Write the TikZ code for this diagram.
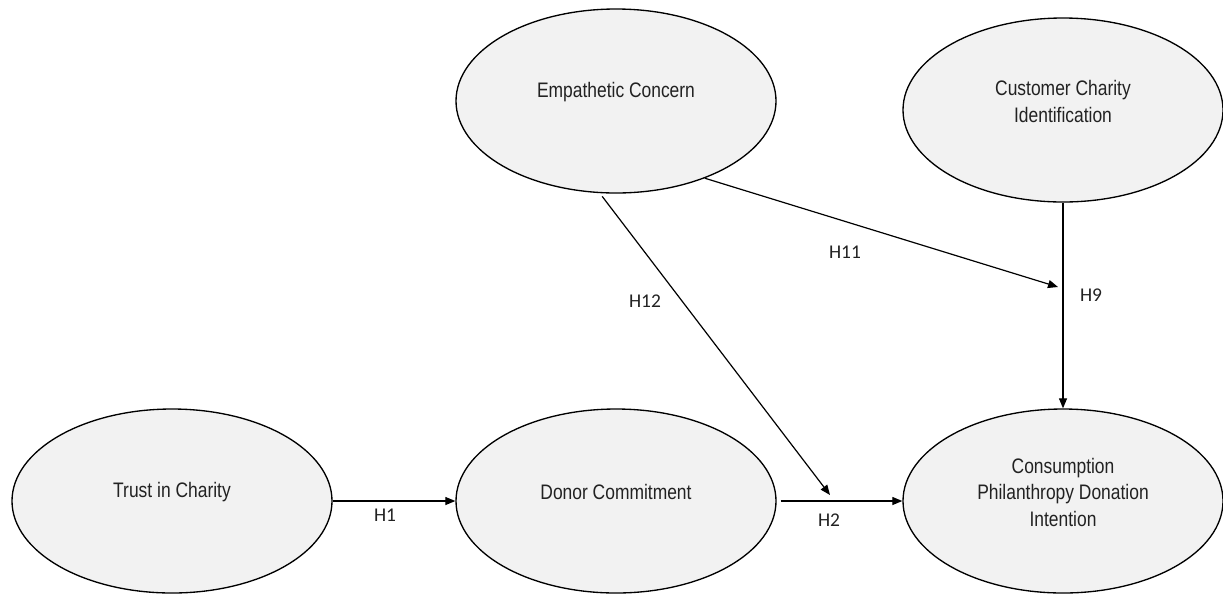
\documentclass[tikz,border=0pt]{standalone}
\usepackage{fontspec}
\usetikzlibrary{shapes.geometric,arrows.meta}
\newfontfamily\ellfont[FakeStretch=0.83]{Liberation Sans}
\newfontfamily\hfont{Carlito}
\definecolor{ellfill}{HTML}{F2F2F2}
\definecolor{ink}{HTML}{222222}
\begin{document}
\begin{tikzpicture}[x=0.75pt,y=-0.75pt,
  construct/.style={ellipse,draw=black,line width=1pt,fill=ellfill,
    minimum width=240pt,minimum height=138pt,inner sep=0pt},
  ctext/.style={font=\ellfont\fontsize{15.75}{20}\selectfont,text=ink,
    align=center,yshift=6.4pt},
  path/.style={draw=black,line width=0.9pt,-{Triangle[length=7.5pt,width=6pt]}},
  hyp/.style={font=\hfont\fontsize{14.6}{17}\selectfont,text=ink,inner sep=0pt}]
  \useasboundingbox (0,0) rectangle (1223,594);

  % latent constructs
  \node[construct,label={[ctext]center:Trust in Charity}] (trust) at (172,501) {};
  \node[construct,label={[ctext]center:Donor Commitment}] (donor) at (616,501) {};
  \node[construct,label={[ctext]center:Consumption\\Philanthropy Donation\\Intention}] (cons) at (1063,501) {};
  \node[construct,label={[ctext]center:Empathetic Concern}] (emp) at (616,101) {};
  \node[construct,label={[ctext]center:Customer Charity\\Identification}] (cust) at (1063,110) {};

  % moderation targets
  \coordinate (t12) at (830,495);
  \coordinate (t11) at (1058,287);

  % hypothesised paths
  \draw[path] (trust.east) -- (donor.west);
  \draw[path,shorten <=3pt] (donor.east) -- (cons.west);
  \draw[path] (cust.south) -- (cons.north);
  \draw[path,shorten <=3pt] (emp.260) -- (t12);
  \draw[path] (emp.319) -- (t11);

  % hypothesis labels
  \node[hyp] (h1) at (385,515) {H1};
  \node[hyp] (h2) at (829,520) {H2};
  \node[hyp] (h9) at (1091,295) {H9};
  \node[hyp] (h11) at (845,252) {H11};
  \node[hyp] (h12) at (645,301) {H12};
\end{tikzpicture}
\end{document}
